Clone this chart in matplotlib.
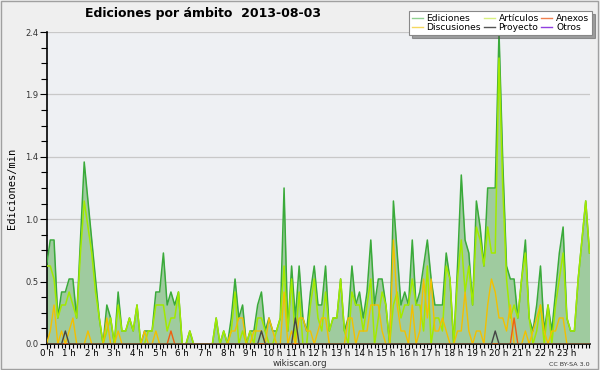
import matplotlib
matplotlib.use('Agg')
import matplotlib.pyplot as plt
from matplotlib.ticker import MultipleLocator, FormatStrFormatter
from matplotlib.patches import Rectangle
import numpy as np

# ediciones por minuto, pasos de 10 min (0 h .. 24 h)
ediciones = [
    0.6, 0.8, 0.8, 0.2, 0.4, 0.4, 0.5, 0.5, 0.2, 0.8, 1.4, 1.1,
    0.8, 0.5, 0.2, 0.0, 0.3, 0.2, 0.0, 0.4, 0.1, 0.1, 0.2, 0.1,
    0.3, 0.0, 0.1, 0.1, 0.1, 0.4, 0.4, 0.7, 0.3, 0.4, 0.3, 0.4,
    0.0, 0.0, 0.1, 0.0, 0.0, 0.0, 0.0, 0.0, 0.0, 0.2, 0.0, 0.1,
    0.0, 0.2, 0.5, 0.2, 0.3, 0.0, 0.1, 0.1, 0.3, 0.4, 0.1, 0.2,
    0.1, 0.1, 0.2, 1.2, 0.1, 0.6, 0.2, 0.6, 0.2, 0.1, 0.4, 0.6,
    0.3, 0.3, 0.6, 0.1, 0.2, 0.2, 0.5, 0.1, 0.2, 0.6, 0.3, 0.4,
    0.2, 0.4, 0.8, 0.3, 0.5, 0.5, 0.3, 0.0, 1.1, 0.7, 0.3, 0.4,
    0.3, 0.8, 0.3, 0.4, 0.6, 0.8, 0.5, 0.3, 0.3, 0.3, 0.7, 0.5,
    0.0, 0.6, 1.3, 0.8, 0.7, 0.3, 1.1, 0.9, 0.6, 1.2, 1.2, 1.2,
    2.4, 1.4, 0.6, 0.5, 0.5, 0.2, 0.5, 0.8, 0.2, 0.1, 0.3, 0.6,
    0.1, 0.3, 0.1, 0.4, 0.7, 0.9, 0.2, 0.1, 0.1, 0.5, 0.8, 1.1,
    0.7,
]
articulos = [
    0.6, 0.6, 0.5, 0.2, 0.3, 0.3, 0.4, 0.3, 0.2, 0.7, 1.1, 0.9,
    0.7, 0.4, 0.2, 0.0, 0.1, 0.2, 0.0, 0.3, 0.1, 0.1, 0.2, 0.1,
    0.3, 0.0, 0.0, 0.1, 0.1, 0.3, 0.3, 0.3, 0.1, 0.2, 0.2, 0.4,
    0.0, 0.0, 0.1, 0.0, 0.0, 0.0, 0.0, 0.0, 0.0, 0.2, 0.0, 0.1,
    0.0, 0.1, 0.4, 0.0, 0.1, 0.0, 0.1, 0.0, 0.2, 0.2, 0.1, 0.0,
    0.0, 0.1, 0.2, 0.6, 0.1, 0.5, 0.0, 0.4, 0.0, 0.0, 0.3, 0.5,
    0.2, 0.1, 0.4, 0.1, 0.2, 0.2, 0.5, 0.1, 0.0, 0.4, 0.3, 0.3,
    0.1, 0.3, 0.5, 0.0, 0.2, 0.4, 0.3, 0.0, 0.3, 0.4, 0.2, 0.3,
    0.3, 0.5, 0.3, 0.3, 0.1, 0.6, 0.0, 0.2, 0.2, 0.1, 0.6, 0.5,
    0.0, 0.5, 0.8, 0.4, 0.6, 0.3, 0.9, 0.8, 0.6, 0.9, 0.7, 0.7,
    2.2, 1.2, 0.5, 0.2, 0.3, 0.2, 0.5, 0.7, 0.2, 0.0, 0.1, 0.3,
    0.0, 0.3, 0.0, 0.3, 0.5, 0.7, 0.2, 0.1, 0.1, 0.5, 0.8, 1.1,
    0.7,
]
discusiones = [
    0.0, 0.1, 0.3, 0.0, 0.1, 0.0, 0.1, 0.2, 0.0, 0.0, 0.0, 0.1,
    0.0, 0.0, 0.0, 0.0, 0.2, 0.0, 0.0, 0.1, 0.0, 0.0, 0.0, 0.0,
    0.0, 0.0, 0.1, 0.0, 0.0, 0.1, 0.0, 0.0, 0.0, 0.0, 0.0, 0.0,
    0.0, 0.0, 0.0, 0.0, 0.0, 0.0, 0.0, 0.0, 0.0, 0.0, 0.0, 0.0,
    0.0, 0.1, 0.1, 0.2, 0.2, 0.0, 0.0, 0.1, 0.1, 0.1, 0.0, 0.2,
    0.1, 0.0, 0.0, 0.4, 0.0, 0.1, 0.0, 0.2, 0.2, 0.1, 0.1, 0.0,
    0.1, 0.2, 0.2, 0.0, 0.0, 0.0, 0.0, 0.0, 0.2, 0.2, 0.0, 0.1,
    0.1, 0.1, 0.3, 0.3, 0.3, 0.1, 0.0, 0.0, 0.8, 0.3, 0.1, 0.1,
    0.0, 0.3, 0.0, 0.1, 0.5, 0.2, 0.5, 0.1, 0.1, 0.2, 0.1, 0.0,
    0.0, 0.1, 0.1, 0.4, 0.1, 0.0, 0.1, 0.1, 0.0, 0.3, 0.5, 0.4,
    0.2, 0.2, 0.1, 0.3, 0.0, 0.0, 0.0, 0.1, 0.0, 0.1, 0.2, 0.3,
    0.1, 0.0, 0.1, 0.1, 0.2, 0.2, 0.0, 0.0, 0.0, 0.0, 0.0, 0.0,
    0.0,
]
# picos sueltos: (indice de 10 min, valor)
proyecto_picos = [(5, 0.1), (57, 0.1), (66, 0.2), (119, 0.1)]
anexos_picos = [(33, 0.1), (124, 0.2)]
otros_picos = []

horas = [f'{h} h' for h in range(24)]

x = np.arange(len(ediciones)) / 6.0
proyecto = np.zeros(len(ediciones))
for i, v in proyecto_picos:
    proyecto[i] = v
anexos = np.zeros(len(ediciones))
for i, v in anexos_picos:
    anexos[i] = v
otros = np.zeros(len(ediciones))
for i, v in otros_picos:
    otros[i] = v

plt.rcParams['font.family'] = ['DejaVu Sans']

fig = plt.figure(figsize=(6, 3.7), dpi=100, facecolor='#efefef')
ax = fig.add_axes([0.0775, 0.0703, 0.905, 0.8432])
ax.set_facecolor('#eef0f3')

ax.fill_between(x, ediciones, 0, color='#9fcb9f', lw=0, zorder=2)
ax.plot(x, ediciones, color='#3aaa3a', lw=1.1, zorder=3, label='Ediciones')
ax.plot(x, articulos, color='#a2ea00', lw=1.1, zorder=4, label='Artículos')
ax.plot(x, discusiones, color='#f3c000', lw=1.0, zorder=5, label='Discusiones')
ax.plot(x, anexos, color='#f06010', lw=1.0, zorder=6, label='Anexos')
ax.plot(x, proyecto, color='#444444', lw=1.0, zorder=6, label='Proyecto')
ax.plot(x, otros, color='#9040e0', lw=1.0, zorder=1, alpha=0, label='Otros')

ax.set_xlim(0, 24)
ax.set_ylim(0, 2.4)

ax.yaxis.set_major_locator(MultipleLocator(0.48))
ax.yaxis.set_minor_locator(MultipleLocator(0.12))
ax.yaxis.set_major_formatter(FormatStrFormatter('%.1f'))
ax.set_xticks(range(24))
ax.set_xticklabels(horas)
ax.xaxis.set_minor_locator(MultipleLocator(1 / 6))

ax.tick_params(axis='both', which='both', direction='out', color='black', width=0.8)
ax.tick_params(axis='x', which='major', length=3.5, labelsize=6.3, pad=0)
ax.tick_params(axis='x', which='minor', length=3)
ax.tick_params(axis='y', which='major', length=5, labelsize=6, pad=1, labelcolor='#333333')
ax.tick_params(axis='y', which='minor', length=4)

ax.grid(axis='y', which='major', color='#c8c8c8', lw=0.9, zorder=0)
ax.set_axisbelow(True)
for s in ['top', 'right']:
    ax.spines[s].set_visible(False)
ax.spines['left'].set_linewidth(1.2)
ax.spines['bottom'].set_linewidth(1.2)

ax.set_ylabel('Ediciones/min', fontsize=7.5, family='DejaVu Sans Mono', labelpad=6)

fig.text(85 / 600, 1 - 14 / 370, 'Ediciones por ámbito  2013-08-03',
         fontsize=9, weight='bold', ha='left', va='center')
fig.text(300 / 600, 1 - 363.5 / 370, 'wikiscan.org', fontsize=6.3, ha='center', va='center', color='#333333')
fig.text(590 / 600, 1 - 364 / 370, 'CC BY-SA 3.0', fontsize=4.6, ha='right', va='center', color='#333333')

# leyenda: colores pálidos como en el original
h = [
    plt.Line2D([], [], color='#8fd08f', lw=1),
    plt.Line2D([], [], color='#f5d860', lw=1),
    plt.Line2D([], [], color='#d8f080', lw=1),
    plt.Line2D([], [], color='#555555', lw=1),
    plt.Line2D([], [], color='#f08050', lw=1),
    plt.Line2D([], [], color='#9040e0', lw=1),
]
lab = ['Ediciones', 'Discusiones', 'Artículos', 'Proyecto', 'Anexos', 'Otros']
leg = fig.legend(h, lab, ncol=3, loc='upper right', bbox_to_anchor=(592 / 600, 1 - 11 / 370),
                 fontsize=6.6, frameon=True, fancybox=False, shadow=True,
                 handlelength=1.2, handletextpad=0.4, columnspacing=0.3,
                 labelspacing=0.05, borderpad=0.3, borderaxespad=0)
leg.get_frame().set_edgecolor('#888888')
leg.get_frame().set_linewidth(0.8)

fig.patches.append(Rectangle((0.002, 0.003), 0.995, 0.994, transform=fig.transFigure,
                             fill=False, edgecolor='#a0a0a0', lw=1))

fig.savefig('out.png', dpi=100, facecolor=fig.get_facecolor())
